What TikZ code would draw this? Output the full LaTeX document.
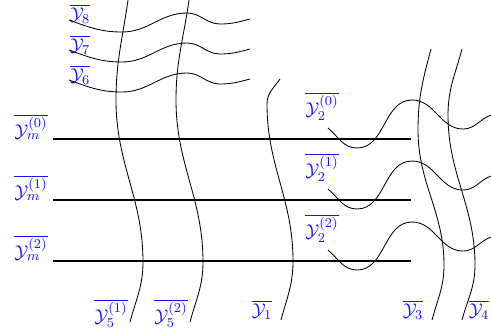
\documentclass[tikz,border=0pt]{standalone}
\usepackage{tikz}
\usetikzlibrary{positioning}
\definecolor{labblue}{RGB}{20,20,250}

\begin{document}
\begin{tikzpicture}[
  x=0.0208cm, y=-0.0208cm,
  lab/.style={text=labblue, inner sep=1pt, font=\fontsize{11}{13}\selectfont},
  rail/.style={line width=1pt},
  wire/.style={line width=0.5pt}
]
\useasboundingbox (0,0) rectangle (491,333);

% horizontal rails
\node[lab] (ym0) at (31,127) {$\overline{\mathcal{Y}_m^{(0)}}$};
\node[lab] (ym1) at (31,188) {$\overline{\mathcal{Y}_m^{(1)}}$};
\node[lab] (ym2) at (31,248) {$\overline{\mathcal{Y}_m^{(2)}}$};
\coordinate (r0a) at (53,139);  \coordinate (r0b) at (411,139);
\coordinate (r1a) at (53,200);  \coordinate (r1b) at (411,200);
\coordinate (r2a) at (53,261);  \coordinate (r2b) at (411,261);
\draw[rail] (r0a) -- (r0b);
\draw[rail] (r1a) -- (r1b);
\draw[rail] (r2a) -- (r2b);

% top waves
\node[lab] (y8) at (80,14) {$\overline{\mathcal{Y}_8}$};
\node[lab] (y7) at (80,45) {$\overline{\mathcal{Y}_7}$};
\node[lab] (y6) at (80,75) {$\overline{\mathcal{Y}_6}$};
\foreach \dy in {0,30,60}
  \draw[wire] (69,20+\dy) to[out=-20,in=180] (122,32+\dy) to[out=0,in=180]
    (187,13+\dy) to[out=0,in=180] (220,24+\dy) to[out=0,in=195] (250,19+\dy);

% right waves
\node[lab] (y20) at (322,106) {$\overline{\mathcal{Y}_2^{(0)}}$};
\node[lab] (y21) at (322,167) {$\overline{\mathcal{Y}_2^{(1)}}$};
\node[lab] (y22) at (322,228) {$\overline{\mathcal{Y}_2^{(2)}}$};
\foreach \dy in {0,61,122}
  \draw[wire] (328,128+\dy) to[out=-40,in=180] (357,148+\dy) to[out=0,in=180]
    (412,100+\dy) to[out=0,in=180] (463,129+\dy) to[out=0,in=200] (491,115+\dy);

% vertical strands
\node[lab] (y51) at (111,313) {$\overline{\mathcal{Y}_5^{(1)}}$};
\node[lab] (y52) at (171,313) {$\overline{\mathcal{Y}_5^{(2)}}$};
\node[lab] (y1)  at (262,310) {$\overline{\mathcal{Y}_1}$};
\node[lab] (y3)  at (413,310) {$\overline{\mathcal{Y}_3}$};
\node[lab] (y4)  at (479,310) {$\overline{\mathcal{Y}_4}$};

\draw[wire] (128,0) to[out=-98,in=90] (116,100) to[out=-90,in=90]
  (143,262) to[out=-90,in=75] (130,322);
\draw[wire] (189,0) to[out=-98,in=90] (176,100) to[out=-90,in=90]
  (203,262) to[out=-90,in=75] (190,322);
\draw[wire] (280,79) to[out=-125,in=90] (267,104) to[out=-90,in=90]
  (293,261) to[out=-90,in=75] (281,320);
\draw[wire] (431,49) to[out=-105,in=90] (418,130) to[out=-90,in=90]
  (444,265) to[out=-90,in=75] (432,320);
\draw[wire] (462,49) to[out=-105,in=90] (448,115) to[out=-90,in=90]
  (475,265) to[out=-90,in=75] (462,320);

\end{tikzpicture}
\end{document}
